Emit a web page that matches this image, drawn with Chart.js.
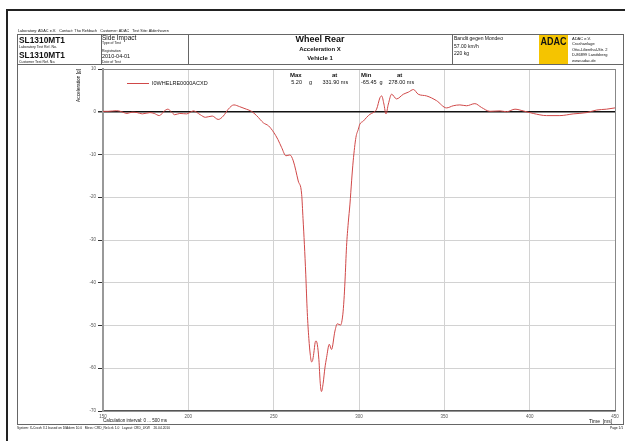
<!DOCTYPE html>
<html>
<head>
<meta charset="utf-8">
<script src="https://cdn.jsdelivr.net/npm/chart.js@4.4.1/dist/chart.umd.min.js"></script>
<style>
  html, body { margin: 0; padding: 0; background: #fff; overflow: hidden; }
  #page { position: relative; width: 625px; height: 441px; font-family: "Liberation Sans", Arial, sans-serif; color: #111; }
  #chart { position: absolute; left: 0; top: 0; }
  .t { position: absolute; white-space: nowrap; line-height: 1; }
  .b { font-weight: bold; }
  .ln { position: absolute; background: #666; }
</style>
</head>
<body>
<div id="page">
  <canvas id="chart" width="625" height="441"></canvas>

  <!-- page and report frames -->
  <div class="ln" style="left:6px;top:9px;width:619px;height:2px;background:#222"></div>
  <div class="ln" style="left:6px;top:9px;width:2px;height:432px;background:#222"></div>
  <div style="position:absolute;left:17px;top:34px;width:605px;height:389px;border:1px solid #666"></div>
  <div class="ln" style="left:17px;top:64px;width:606px;height:1px"></div>
  <div class="ln" style="left:101px;top:34px;width:1px;height:31px"></div>
  <div class="ln" style="left:188px;top:34px;width:1px;height:31px"></div>
  <div class="ln" style="left:452px;top:34px;width:1px;height:31px"></div>

  <!-- header -->
  <div class="t" style="left:18px;top:30px;font-size:3.8px">Laboratory: ADAC e.V.&nbsp;&nbsp; Contact: Tho Rehbach&nbsp;&nbsp; Customer: ADAC&nbsp;&nbsp; Test Site: Aldenhoven</div>
  <div class="t b" style="left:19px;top:35px;font-size:9.5px;transform:scaleX(0.88);transform-origin:left">SL1310MT1</div>
  <div class="t" style="left:19px;top:46px;font-size:3.5px">Laboratory Test Ref. No.</div>
  <div class="t b" style="left:19px;top:50px;font-size:9.5px;transform:scaleX(0.88);transform-origin:left">SL1310MT1</div>
  <div class="t" style="left:19px;top:61px;font-size:3.5px">Customer Test Ref. No.</div>

  <div class="t" style="left:102px;top:35px;font-size:6.5px">Side Impact</div>
  <div class="t" style="left:102px;top:41.5px;font-size:3.5px">Type of Test</div>
  <div class="t" style="left:102px;top:50px;font-size:3.5px">Registration</div>
  <div class="t" style="left:102px;top:54px;font-size:5.5px">2010-04-01</div>
  <div class="t" style="left:102px;top:60.5px;font-size:3.5px">Date of Test</div>

  <div class="t b" style="left:188px;width:264px;text-align:center;top:35px;font-size:9px">Wheel Rear</div>
  <div class="t b" style="left:188px;width:264px;text-align:center;top:46px;font-size:6px">Acceleration X</div>
  <div class="t b" style="left:188px;width:264px;text-align:center;top:55px;font-size:6px">Vehicle 1</div>

  <div class="t" style="left:454px;top:36px;font-size:5px">Bandit gegen Mondeo</div>
  <div class="t" style="left:454px;top:43.5px;font-size:5px">57.00 km/h</div>
  <div class="t" style="left:454px;top:51px;font-size:5px">220 kg</div>

  <div style="position:absolute;left:539px;top:35px;width:29px;height:29px;background:#f5c400"></div>
  <div class="t b" style="left:537px;width:33px;text-align:center;top:35.5px;font-size:11px;transform:scaleX(0.82)">ADAC</div>
  <div class="t" style="left:572px;top:36px;font-size:4px;line-height:5.4px">ADAC e.V.<br>Crashanlage<br>Otto-Lilienthal-Str. 2<br>D-86899 Landsberg<br>www.adac.de</div>

  <!-- axis titles and statistics -->
  <div class="t" style="left:62px;top:82.5px;width:34px;text-align:center;font-size:4.8px;transform:rotate(-90deg)">Acceleration [g]</div>
  <div class="ln" style="left:127px;top:82.5px;width:22px;height:1px;background:#d04848"></div>
  <div class="t" id="legendText" style="left:152px;top:80.5px;font-size:5.5px"></div>

  <div class="t b" style="left:290px;top:72px;font-size:6px">Max</div>
  <div class="t b" style="left:332px;top:72px;font-size:6px">at</div>
  <div class="t b" style="left:361px;top:72px;font-size:6px">Min</div>
  <div class="t b" style="left:397px;top:72px;font-size:6px">at</div>
  <div class="t" style="left:281px;width:21px;text-align:right;top:80px;font-size:5.5px">5.20</div>
  <div class="t" style="left:309px;top:80px;font-size:5.5px">g</div>
  <div class="t" style="left:322.5px;top:80px;font-size:5.5px">331.90 ms</div>
  <div class="t" style="left:361px;top:80px;font-size:5.5px">-65.45</div>
  <div class="t" style="left:379.5px;top:80px;font-size:5.5px">g</div>
  <div class="t" style="left:388.5px;top:80px;font-size:5.5px">278.00 ms</div>

  <!-- footer -->
  <div class="t" style="left:103px;top:419px;font-size:4.5px">Calculation interval: 0 ... 500 ms</div>
  <div class="t" style="left:589px;top:418.5px;font-size:5px">Time&nbsp; [ms]</div>
  <div class="t" style="left:17px;top:426.5px;font-size:3.3px">System: X-Crash 3.1 based on DIAdem 10.0&nbsp;&nbsp; Mess: CRD_Rel.crk 1.0&nbsp;&nbsp; Layout: CRD_LKW&nbsp;&nbsp;&nbsp; 26.04.2010</div>
  <div class="t" style="left:610px;top:427px;font-size:3.3px">Page 1/1</div>
</div>

<script>
// Channel name
const channelName = 'I0WHELRE0000ACXD';

// Time axis samples (ms)
const timeMs = [
  150, 153, 158, 161, 164, 167, 170, 173, 177.5, 180, 183, 186, 188, 190, 192, 195,
  199, 203, 207, 210, 214, 217.5, 220.5, 223.4, 226.7, 230, 234, 237, 240, 244,
  247, 250, 252.5, 254.7, 257.2, 259.5, 261.5, 264.4, 266.4, 267.2, 268, 268.8,
  269.7, 270.6, 271.5, 272.2, 272.8, 273.5, 274.3, 274.8, 275.6, 276.5, 277.3, 278,
  279, 280, 281, 282.6, 283.9, 285.9, 287.3, 289.2, 290.5, 291.2, 291.8, 292.7,
  293.7, 294.7, 295.7, 296.6, 298.2, 299.6, 300.5, 302.5, 304.5, 306.4, 308.3,
  310.3, 312.3, 313.3, 314.6, 315.8, 317.2, 319.1, 322, 326, 329, 331.9, 334.7,
  339.6, 345.4, 351.3, 355.2, 359.1, 363, 367.9, 371.8, 376.7, 382.6, 386.5, 391.4,
  396.2, 402.1, 409.9, 417.7, 425.5, 433.4, 439.2, 445, 450
];

// Acceleration values (g)
const accelG = [
  0.1, 0.1, 0.25, 0, -0.4, -0.1, -0.2, -0.5, -0.2, -0.4, -0.9, 0.2, 0.6, 0, -0.7, -0.4,
  -0.5, 0.2, -0.7, -1.3, -1.0, -1.8, -1.0, 0.6, 1.6, 1.2, 0.6, 0.1, -0.9, -2.6,
  -3.3, -4.8, -6.5, -8.4, -10.3, -10.1, -11.5, -16.2, -19.3, -25, -31, -38,
  -47, -53, -57, -58.5, -58.2, -56.5, -54.0, -53.6, -54.5, -58, -63.5, -65.45,
  -63.5, -60, -57.5, -54.4, -55.6, -51.3, -49.6, -49.9, -47.5, -44, -39.6, -31.5,
  -26, -21.6, -16, -11.5, -6.0, -4.1, -2.9, -2.2, -1.3, -0.6, -0.2,
  0.6, 3.3, 3.7, 1.8, -0.5, 1.8, 4.1, 3.0, 4.1, 4.6, 5.2, 4.1,
  3.7, 2.6, 0.9, 1.4, 1.6, 1.4, 1.9, 1.0, 0.1, 0.2, 0, 0.6,
  0.2, -0.4, -0.9, -0.9, -0.5, -0.2, 0.4, 0.6, 0.9
];

// Tick labels
const xTicks = [150, 200, 250, 300, 350, 400, 450];
const yTicks = [10, 0, -10, -20, -30, -40, -50, -60, -70];

document.getElementById('legendText').textContent = channelName;

const points = timeMs.map((t, i) => ({ x: t, y: accelG[i] }));

new Chart(document.getElementById('chart'), {
  type: 'line',
  data: {
    datasets: [{
      label: channelName,
      data: points,
      borderColor: '#d04848',
      borderWidth: 1,
      pointRadius: 0,
      cubicInterpolationMode: 'monotone',
      fill: false
    }]
  },
  options: {
    responsive: false,
    animation: false,
    devicePixelRatio: 1,
    layout: { padding: { left: 0, right: 10, top: 69, bottom: 10 } },
    plugins: { legend: { display: false }, tooltip: { enabled: false } },
    scales: {
      x: {
        type: 'linear',
        min: 150,
        max: 450,
        afterBuildTicks: (s) => { s.ticks = xTicks.map((v) => ({ value: v })); },
        afterFit: (s) => { s.height = 20; },
        ticks: { font: { family: 'Liberation Sans', size: 4.5 }, color: '#555', padding: 3, maxRotation: 0 },
        grid: {
          drawTicks: false,
          color: (c) => (c.tick && c.tick.value === 450 ? '#888' : '#d2d2d2')
        },
        border: { color: '#555', width: 1.5 }
      },
      y: {
        min: -70,
        max: 10,
        afterBuildTicks: (s) => { s.ticks = yTicks.map((v) => ({ value: v })); },
        afterFit: (s) => { s.width = 103; },
        ticks: { font: { family: 'Liberation Sans', size: 4.5 }, color: '#555', padding: 2 },
        grid: {
          tickLength: 5,
          tickColor: '#333',
          color: (c) => {
            if (!c.tick) return '#d2d2d2';
            if (c.tick.value === 0) return '#111';
            if (c.tick.value === 10) return '#888';
            return '#d2d2d2';
          },
          lineWidth: (c) => (c.tick && c.tick.value === 0 ? 1.5 : 1)
        },
        border: { color: '#999', width: 2 }
      }
    }
  }
});
</script>
</body>
</html>
